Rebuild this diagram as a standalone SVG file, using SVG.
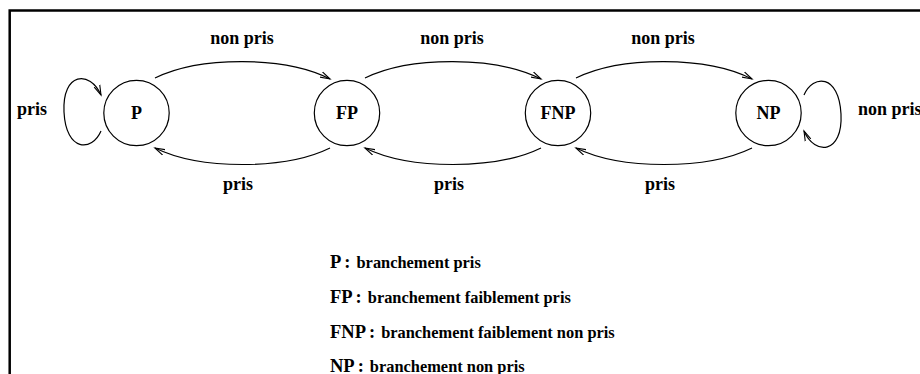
<svg xmlns="http://www.w3.org/2000/svg" width="920" height="374" viewBox="0 0 920 374">
<defs>
<style>
text{font-family:"Liberation Serif","Times New Roman",serif;font-weight:bold;fill:#000}
.lbl{font-size:18px;text-anchor:middle}
.node{font-size:18px;text-anchor:middle}
.leg{font-size:18.5px}
.desc{font-size:16.4px}
.c{fill:#fff;stroke:#000;stroke-width:1.2}
.e{fill:none;stroke:#000;stroke-width:1.2;marker-end:url(#ah)}
</style>
<marker id="ah" markerWidth="12" markerHeight="8" refX="10" refY="4" orient="auto" markerUnits="userSpaceOnUse">
<path d="M0,1 L10,4 L0,7" fill="none" stroke="#000" stroke-width="1.1"/>
</marker>
</defs>
<rect x="0" y="0" width="920" height="374" fill="#fff"/>
<rect x="9.7" y="10.5" width="1000" height="500" fill="none" stroke="#000" stroke-width="2.5"/>
<g id="connectors">
<path class="e" d="M155,78 C200,56 285,56 330,79"/>
<path class="e" d="M330,148 C285,170 200,170 155,148"/>
<path class="e" d="M365,78 C410,56 496,56 541,79"/>
<path class="e" d="M541,148 C496,170 410,170 365,148"/>
<path class="e" d="M576,78 C621,56 707,56 752,79"/>
<path class="e" d="M752,148 C707,170 621,170 576,148"/>
<path class="e" d="M101,131 C92,152 66,152 64,112 C62,72 90,70 101,95"/>
<path class="e" d="M804,95 C813,74 839,74 841,114 C843,154 815,156 804,131"/>
<text class="lbl" x="242" y="44">non pris</text>
<text class="lbl" x="452" y="44">non pris</text>
<text class="lbl" x="663" y="44">non pris</text>
<text class="lbl" x="238" y="190">pris</text>
<text class="lbl" x="449" y="190">pris</text>
<text class="lbl" x="660" y="190">pris</text>
<text class="lbl" x="32" y="115">pris</text>
<text x="858" y="115" style="font-size:18px">non pris</text>
</g>
<g id="node-P"><circle class="c" cx="136.5" cy="113" r="32.7"/><text class="node" x="136.5" y="119">P</text></g>
<g id="node-FP"><circle class="c" cx="347" cy="113" r="32.7"/><text class="node" x="347" y="119">FP</text></g>
<g id="node-FNP"><circle class="c" cx="558" cy="113" r="32.7"/><text class="node" x="558" y="119">FNP</text></g>
<g id="node-NP"><circle class="c" cx="768.5" cy="113" r="32.7"/><text class="node" x="768.5" y="119">NP</text></g>
<g id="legend">
<text x="330" y="268"><tspan class="leg">P<tspan dx="3">:</tspan></tspan> <tspan class="desc" dx="2">branchement pris</tspan></text>
<text x="330" y="303"><tspan class="leg">FP<tspan dx="3">:</tspan></tspan> <tspan class="desc" dx="2">branchement faiblement pris</tspan></text>
<text x="330" y="338"><tspan class="leg">FNP<tspan dx="3">:</tspan></tspan> <tspan class="desc" dx="2">branchement faiblement non pris</tspan></text>
<text x="330" y="372"><tspan class="leg">NP<tspan dx="3">:</tspan></tspan> <tspan class="desc" dx="2">branchement non pris</tspan></text>
</g>
</svg>
